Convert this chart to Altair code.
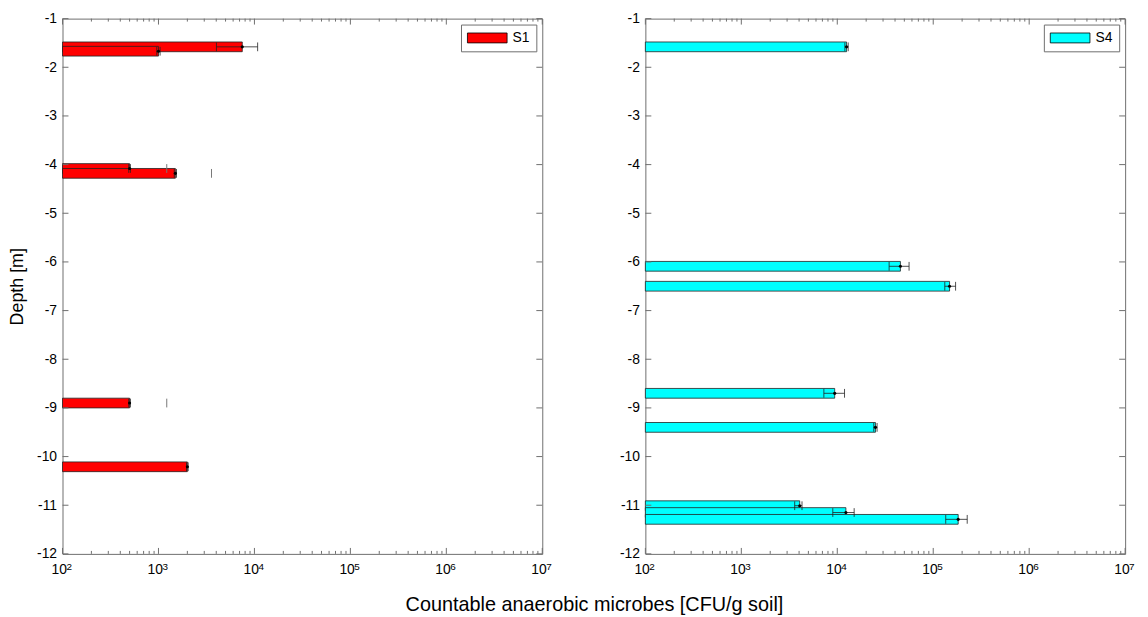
import altair as alt
import pandas as pd

# ---------------- data ----------------
# Left panel: S1
s1_depth = [-1.58, -1.67, -4.08, -4.18, -8.90, -10.21]
s1_value = [7470, 1000, 500, 1500, 500, 2000]
s1_err_lo = [4020, 960, 490, 1460, 490, 1960]
s1_err_hi = [10800, 1040, 510, 1540, 510, 2040]
# isolated error caps visible without their bar line
s1_cap_depth = [-4.08, -4.18, -8.90]
s1_cap_value = [1220, 3570, 1220]

# Right panel: S4
s4_depth = [-1.58, -6.09, -6.50, -8.70, -9.40, -11.01, -11.15, -11.29]
s4_value = [12500, 45500, 148000, 9400, 25000, 4060, 12300, 182000]
s4_err_lo = [12000, 34700, 132000, 7250, 24000, 3600, 8980, 135000]
s4_err_hi = [13000, 56000, 171000, 11900, 26000, 4290, 15000, 226000]

x_major = [1e2, 1e3, 1e4, 1e5, 1e6, 1e7]
x_exponents = ["2", "3", "4", "5", "6", "7"]
x_minor_mult = [2, 3, 4, 5, 6, 7, 8, 9]
y_ticks = [-1, -2, -3, -4, -5, -6, -7, -8, -9, -10, -11, -12]

x_title = "Countable anaerobic microbes [CFU/g soil]"
y_title = "Depth [m]"

FONT = "Liberation Sans"
W, H = 484, 540
FRAME = "#6e6e6e"

x_minor = [m * d for d in x_major[:-1] for m in x_minor_mult]

xs = alt.Scale(type="log", domain=[1e2, 1e7], nice=False)
ys = alt.Scale(domain=[-12, -1], nice=False, zero=False)


def panel(name, color, depth, value, lo, hi, cap_d=None, cap_v=None, with_title=False):
    xaxis = alt.Axis(values=x_major, labelExpr="'10'", ticks=False, domain=False,
                     grid=False, title=None, labelFontSize=14, labelPadding=9,
                     labelFont=FONT, labelColor="black", labelAlign="right", labelOffset=4)
    yaxis = alt.Axis(values=y_ticks, labelExpr="toString(datum.value)", ticks=False,
                     domain=False, grid=False,
                     title=y_title if with_title else None, titleFontSize=18,
                     titleFontWeight="normal", titleFont=FONT, titlePadding=10,
                     labelFontSize=14, labelPadding=6, labelFont=FONT, labelColor="black")

    def X(f):
        return alt.X(f, type="quantitative", scale=xs, axis=xaxis)

    def Y(f):
        return alt.Y(f, type="quantitative", scale=ys, axis=yaxis)

    df = pd.DataFrame({"depth": depth, "value": value, "lo": lo, "hi": hi})
    df["series"] = name
    df["base"] = x_major[0]
    base = alt.Chart(df)

    bars = base.transform_calculate(
        y1="datum.depth - 0.1", y2="datum.depth + 0.1"
    ).mark_rect(stroke="#222", strokeWidth=0.8).encode(
        x=X("value"), x2=alt.X2("base"),
        y=Y("y1"), y2=alt.Y2("y2"),
        color=alt.Color("series:N", scale=alt.Scale(domain=[name], range=[color]),
                        legend=alt.Legend(
                            title=None, orient="top-right", offset=6,
                            symbolType="M-2.857,-0.714L2.857,-0.714L2.857,0.714L-2.857,0.714Z",
                            symbolSize=196, symbolStrokeColor="black",
                            symbolStrokeWidth=0.8, symbolOpacity=1,
                            symbolOffset=13, labelOffset=18,
                            labelFontSize=14, labelFont=FONT, labelColor="black",
                            strokeColor=FRAME, fillColor="white", padding=6,
                            cornerRadius=0)),
    )

    err_line = base.mark_rule(color="#222", strokeWidth=0.8).encode(
        x=X("lo"), x2=alt.X2("hi"), y=Y("depth"))
    cap_lo = base.transform_calculate(
        c1="datum.depth - 0.09", c2="datum.depth + 0.09"
    ).mark_rule(color="#222", strokeWidth=0.8).encode(
        x=X("lo"), y=Y("c1"), y2=alt.Y2("c2"))
    cap_hi = base.transform_calculate(
        c1="datum.depth - 0.09", c2="datum.depth + 0.09"
    ).mark_rule(color="#222", strokeWidth=0.8).encode(
        x=X("hi"), y=Y("c1"), y2=alt.Y2("c2"))
    dots = base.mark_point(filled=True, color="black", size=10, opacity=1).encode(
        x=X("value"), y=Y("depth"))

    layers = [bars, err_line, cap_lo, cap_hi, dots]

    if cap_d:
        cdf = pd.DataFrame({"depth": cap_d, "v": cap_v})
        stray = alt.Chart(cdf).transform_calculate(
            c1="datum.depth - 0.09", c2="datum.depth + 0.09"
        ).mark_rule(color="#777", strokeWidth=1).encode(
            x=X("v"), y=Y("c1"), y2=alt.Y2("c2"))
        layers.append(stray)

    # inward ticks on all four sides (MATLAB box style)
    maj = alt.Chart(pd.DataFrame({"v": x_major, "e": x_exponents}))
    mnr = alt.Chart(pd.DataFrame({"v": x_minor}))
    yt = alt.Chart(pd.DataFrame({"d": y_ticks}))
    tick_style = dict(color=FRAME, strokeWidth=1)
    layers += [
        maj.mark_rule(**tick_style).encode(x=X("v"), y=alt.value(H), y2=alt.value(H - 6)),
        maj.mark_rule(**tick_style).encode(x=X("v"), y=alt.value(0), y2=alt.value(6)),
        mnr.mark_rule(**tick_style).encode(x=X("v"), y=alt.value(H), y2=alt.value(H - 3)),
        mnr.mark_rule(**tick_style).encode(x=X("v"), y=alt.value(0), y2=alt.value(3)),
        yt.mark_rule(**tick_style).encode(y=Y("d"), x=alt.value(0), x2=alt.value(6)),
        yt.mark_rule(**tick_style).encode(y=Y("d"), x=alt.value(W), x2=alt.value(W - 6)),
        # superscript exponents of the x tick labels
        maj.mark_text(font=FONT, fontSize=10, align="left", baseline="alphabetic",
                      dx=4, color="black").encode(
            x=X("v"), y=alt.value(H + 16), text="e:N"),
    ]
    return alt.layer(*layers).properties(width=W, height=H)


left = panel("S1", "#FF0000", s1_depth, s1_value, s1_err_lo, s1_err_hi,
             s1_cap_depth, s1_cap_value, with_title=True)
right = panel("S4", "#00FFFF", s4_depth, s4_value, s4_err_lo, s4_err_hi)

chart = alt.hconcat(left, right, spacing=66).resolve_scale(
    color="independent"
).properties(
    title=alt.TitleParams(x_title, orient="bottom", anchor="middle", fontSize=20,
                          fontWeight="normal", font=FONT, color="black", offset=18, dx=23),
    padding={"left": 0, "top": 0, "right": 4, "bottom": 4},
).configure_view(stroke=FRAME, strokeWidth=1)

chart.save("out.html", embed_options={"renderer": "svg", "actions": False})
